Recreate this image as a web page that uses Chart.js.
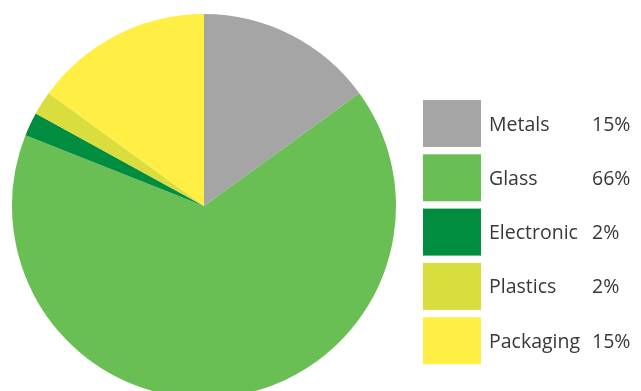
<!DOCTYPE html>
<html>
<head>
<meta charset="utf-8">
<script src="https://cdn.jsdelivr.net/npm/chart.js@4/dist/chart.umd.min.js"></script>
<style>
  html, body { margin: 0; padding: 0; background: #fff; overflow: hidden; }
  #wrap { width: 641px; height: 398px; position: relative; }
</style>
</head>
<body>
<div id="wrap"><canvas id="chart"></canvas></div>
<script>
// Categories and shares (%)
const categories = ['Metals', 'Glass', 'Electronic', 'Plastics', 'Packaging'];
const shares = [15, 66, 2, 2, 15];
const sliceColors = ['#a5a5a5', '#69bf53', '#008d3f', '#dadd3e', '#ffee44'];

// Legend with swatch, label and percentage column
const sideLegend = {
    id: 'sideLegend',
    afterDraw(chart) {
        const ctx = chart.ctx;
        const ds = chart.data.datasets[0];
        ctx.save();
        ctx.font = '19.5px "Open Sans", sans-serif';
        ctx.textBaseline = 'middle';
        chart.data.labels.forEach((label, i) => {
            const y = 100 + i * 54.3;
            ctx.fillStyle = ds.backgroundColor[i];
            ctx.fillRect(423, y, 58, 47);
            ctx.fillStyle = '#383838';
            ctx.fillText(label, 489, y + 25);
            ctx.fillText(ds.data[i] + '%', 592, y + 25);
        });
        ctx.restore();
    }
};

new Chart(document.getElementById('chart'), {
    type: 'pie',
    data: {
        labels: categories,
        datasets: [{
            data: shares,
            backgroundColor: sliceColors,
            borderWidth: 0,
        }]
    },
    options: {
        responsive: true,
        maintainAspectRatio: false,
        animation: false,
        layout: { padding: { left: 12, right: 245, top: 14, bottom: 0 } },
        plugins: {
            legend: { display: false },
            tooltip: { enabled: false }
        }
    },
    plugins: [sideLegend]
});
</script>
</body>
</html>
